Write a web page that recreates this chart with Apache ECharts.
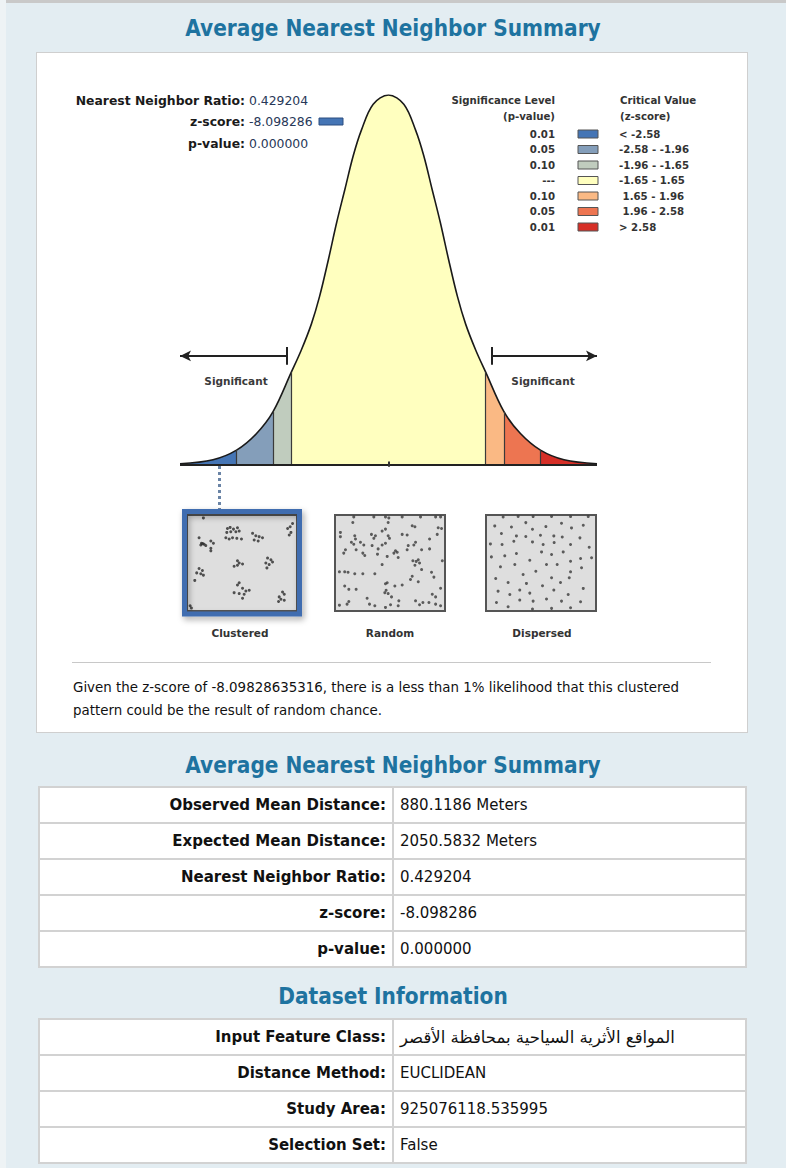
<!DOCTYPE html>
<html>
<head>
<meta charset="utf-8">
<script src="https://cdn.jsdelivr.net/npm/echarts@6/dist/echarts.min.js"></script>
<style>
  body{margin:0;width:786px;height:1168px;background:#e3edf2;position:relative;overflow:hidden;font-family:"DejaVu Sans",sans-serif;color:#111;}
  .topbar{position:absolute;left:0;top:0;width:786px;height:3px;background:#c9c9c9;}
  .leftbar{position:absolute;left:0;top:0;width:6px;height:1168px;background:#eef3f5;}
  .title{position:absolute;left:0;width:786px;text-align:center;color:#1e73a0;font-weight:bold;font-size:22.4px;line-height:28px;font-family:"DejaVu Sans Condensed","DejaVu Sans",sans-serif;}
  .panel{position:absolute;left:36px;top:52px;width:710px;height:679px;background:#fff;border:1px solid #cfcfcf;}
  #chart{position:absolute;left:0;top:0;width:786px;height:740px;}
  .note{position:absolute;left:73px;font-size:13.4px;line-height:16px;color:#111;white-space:nowrap;}
  .sep{position:absolute;left:72px;top:662px;width:639px;height:1px;background:#c8c8c8;}
  table{position:absolute;left:38px;width:709px;border-collapse:collapse;background:#fff;}
  td{border:2px solid #d2d2d2;height:34px;font-size:15px;padding:0 6px;white-space:nowrap;}
  td.k{width:340px;text-align:right;font-weight:bold;}
  td.v{text-align:left;}
  .ar{font-family:"DejaVu Sans",sans-serif;font-size:16.5px;}
</style>
</head>
<body>
<div class="topbar"></div>
<div class="leftbar"></div>
<div class="title" style="top:14px;">Average Nearest Neighbor Summary</div>
<div class="panel"></div>
<div class="sep"></div>
<div class="note" id="note1" style="top:680px;"></div>
<div class="note" id="note2" style="top:703px;"></div>
<div id="chart"></div>
<div class="title" style="top:751px;">Average Nearest Neighbor Summary</div>
<table id="t1" style="top:786px;"></table>
<div class="title" style="top:982px;">Dataset Information</div>
<table id="t2" style="top:1018px;"></table>
<script>
// ---------- data ----------
const zValues = [-3.54,-2.98,-2.58,-2.24,-1.96,-1.65,-1.48,-1.31,-1.17,-1.02,-0.88,-0.74,-0.6,-0.46,-0.26,0,
                 0.26,0.46,0.6,0.74,0.88,1.02,1.17,1.31,1.48,1.65,1.96,2.24,2.58,2.98,3.54];
const curveHeights = [0.002,0.013,0.039,0.084,0.143,0.25,0.31,0.38,0.455,0.555,0.655,0.745,0.835,0.905,0.975,1,
                      0.975,0.905,0.835,0.745,0.655,0.555,0.455,0.38,0.31,0.25,0.143,0.084,0.039,0.013,0.002];
const bandBreaks = [-2.58,-1.96,-1.65,1.65,1.96,2.58];
const bandColors = ['#4575b5','#849eba','#c0ccbe','#ffffbf','#fab984','#ed7551','#d62f27'];
const pLevels = ['0.01','0.05','0.10','---','0.10','0.05','0.01'];
const zRanges = ['< -2.58','-2.58 - -1.96','-1.96 - -1.65','-1.65 - 1.65',' 1.65 - 1.96',' 1.96 - 2.58','> 2.58'];
const infoLabels = ['Nearest Neighbor Ratio:','z-score:','p-value:'];
const infoValues = ['0.429204','-8.098286','0.000000'];
const markerZ = -2.866;        // position of the result marker on the curve axis
const patternNames = ['Clustered','Random','Dispersed'];

const clusteredPts = [[14.2,97.9],[36.5,86.7],[39.0,87.8],[42.1,86.0],[45.8,87.4],[35.9,82.5],[39.6,83.2],[44.3,83.2],[47.4,83.9],
 [35.0,76.9],[38.1,75.5],[41.2,76.9],[45.2,76.2],[49.5,75.5],
 [10.2,76.9],[12.4,71.0],[14.9,69.9],[16.4,68.5],[21.1,73.4],[23.5,71.0],[21.1,65.7],[21.1,62.9],[11.8,69.2],[13.6,70.6],
 [59.8,81.5],[62.8,79.0],[65.9,78.0],[69.0,76.9],[61.3,74.5],[65.0,73.4],
 [96.9,92.0],[94.7,88.5],[92.3,86.7],[95.4,82.5],[93.8,79.7],
 [45.8,52.4],[47.4,50.0],[50.5,48.9],[42.7,46.5],[45.8,47.6],
 [73.7,55.2],[76.8,53.5],[78.3,51.0],[72.1,50.0],[75.2,48.3],[73.1,44.8],
 [10.2,44.1],[13.3,42.0],[8.0,39.5],[11.8,38.5],[6.2,31.5],[14.2,37.1],
 [47.4,29.0],[45.8,26.6],[50.5,23.1],[53.6,20.3],[42.7,18.5],[47.4,17.5],[52.0,16.8],[50.5,12.6],[56.7,21.0],
 [87.6,19.2],[89.2,16.8],[84.5,14.0],[86.1,11.5],[89.2,10.5],[83.9,9.1],
 [1.9,4.5],[3.1,2.1]];
const randomPts = [[16.4,99],[35.0,99],[45.8,99],[48.9,97.9],[61.3,99],[78.3,99],[92.3,99],[96.9,99],
 [15.5,93.0],[48.3,93.0],[70.6,89.5],[73.1,88.5],[94.7,87.4],[97.8,86.7],[45.8,86.0],[42.7,83.9],
 [4.0,82.5],[4.0,78.0],[17.3,79.0],[18.0,75.5],[32.8,80.4],[36.5,79.0],[35.0,76.2],[48.3,79.0],[49.5,76.2],
 [61.3,80.4],[65.9,79.7],[93.8,80.4],[86.7,75.5],[14.2,72.0],[16.4,69.9],[22.6,72.0],[25.7,69.2],[33.4,68.5],
 [42.7,69.2],[45.8,71.0],[73.7,72.0],[72.1,69.2],[66.9,68.5],[8.7,64.0],[7.1,60.5],[18.6,64.0],[24.8,60.5],
 [26.6,58.0],[39.0,65.0],[38.4,59.4],[55.1,62.9],[56.7,61.5],[53.6,60.5],[65.9,64.0],[79.3,64.0],[86.7,65.0],
 [47.4,57.0],[57.6,55.9],[71.2,52.4],[74.3,51.7],[76.2,53.5],[77.4,50.0],[73.1,47.6],[98.5,52.4],[42.7,48.3],
 [79.3,43.0],[88.5,40.2],[3.1,40.6],[8.0,40.6],[11.1,40.2],[17.3,38.5],[24.8,38.5],[35.9,38.5],
 [70.6,36.0],[69.0,32.5],[90.7,35.0],[76.2,30.1],[47.4,29.0],[45.8,28.0],[54.5,25.5],[61.3,26.6],
 [8.0,25.5],[11.8,22.0],[18.6,22.0],[46.4,21.0],[45.2,18.5],[48.3,17.5],[96.9,23.1],[89.2,16.8],[92.3,14.0],
 [28.8,12.6],[51.4,14.0],[58.2,9.8],[73.7,9.8],[80.5,8.0],[3.1,5.2],[11.8,9.1],[10.2,6.3],[31.0,6.3],
 [35.9,4.5],[45.8,2.8],[50.5,5.6],[57.6,4.5],[77.4,5.6],[86.1,8.0],[92.3,6.3],[96.9,4.5]];
const dispersedPts = [[14.9,98.9],[28.8,99.5],[42.7,99.3],[59.8,99.5],[77.4,99.3],[93.8,99.3],
 [7.1,89.4],[22.6,88.3],[35.9,92.9],[42.1,85.9],[54.5,88.7],[69.0,92.2],[78.3,87.3],[89.2,90.1],
 [13.3,81.3],[27.2,78.8],[35.9,78.1],[49.5,79.5],[61.9,78.8],[69.7,77.7],[86.1,76.7],
 [3.1,70.3],[13.9,69.6],[24.8,73.1],[42.1,72.4],[52.0,69.6],[62.2,71.7],[77.4,69.6],[94.7,66.8],
 [4.0,56.5],[16.4,57.6],[27.2,60.1],[39.6,53.0],[50.5,61.8],[59.8,59.0],[70.6,61.8],[77.4,51.9],[86.7,54.8],[96.9,55.5],
 [12.4,45.9],[25.7,48.4],[45.2,41.3],[55.1,48.4],[65.0,48.4],[77.4,40.6],[87.6,44.9],
 [8.0,33.6],[19.5,29.3],[33.4,37.8],[36.5,28.3],[51.4,25.8],[59.8,34.3],[68.1,29.3],[76.2,34.3],[89.2,23.0],
 [10.2,20.1],[21.1,16.6],[30.3,21.2],[39.6,18.0],[61.9,21.2],[75.2,16.6],
 [8.7,8.1],[19.5,3.5],[30.3,10.6],[42.7,9.5],[55.1,11.7],[69.0,9.5],[86.7,8.8],[42.1,1.1],[59.8,1.8],[77.4,2.5]];

const noteLines = ['Given the z-score of -8.09828635316, there is a less than 1% likelihood that this clustered',
                   'pattern could be the result of random chance.'];
const summaryLabels = ['Observed Mean Distance:','Expected Mean Distance:','Nearest Neighbor Ratio:','z-score:','p-value:'];
const summaryValues = ['880.1186 Meters','2050.5832 Meters','0.429204','-8.098286','0.000000'];
const datasetLabels = ['Input Feature Class:','Distance Method:','Study Area:','Selection Set:'];
const datasetValues = ['المواقع الأثرية السياحية بمحافظة الأقصر','EUCLIDEAN','925076118.535995','False'];

// ---------- html parts ----------
document.getElementById('note1').textContent = noteLines[0];
document.getElementById('note2').textContent = noteLines[1];
function fillTable(id, labels, values){
  const t = document.getElementById(id);
  labels.forEach((l,i)=>{
    const tr = document.createElement('tr');
    const a = document.createElement('td'); a.className='k'; a.textContent=l;
    const b = document.createElement('td'); b.className='v';
    const sp = document.createElement('span');
    if (/[\u0600-\u06FF]/.test(values[i])) { sp.dir='rtl'; sp.className='ar'; }
    sp.textContent = values[i];
    b.appendChild(sp);
    tr.appendChild(a); tr.appendChild(b); t.appendChild(tr);
  });
}
fillTable('t1', summaryLabels, summaryValues);
fillTable('t2', datasetLabels, datasetValues);

// ---------- chart ----------
const chart = echarts.init(document.getElementById('chart'), null, {renderer:'svg'});
const FONT = "'DejaVu Sans',sans-serif";
const curveData = zValues.map((z,i)=>[z, curveHeights[i]]);
const hAt = z => curveHeights[zValues.indexOf(z)];

const pieces = bandColors.map((c,i)=>{
  const p = {color:c};
  if (i>0) p.gte = bandBreaks[i-1];
  if (i<bandBreaks.length) p.lt = bandBreaks[i];
  return p;
});

const graphics = [];
// left info block
infoLabels.forEach((l,i)=>{
  const y = 100 + i*21.5;
  graphics.push({type:'text', x:245, y:y, style:{text:l, font:'bold 12.4px '+FONT, fill:'#1a1a1a', align:'right', verticalAlign:'middle'}});
  graphics.push({type:'text', x:249, y:y, style:{text:infoValues[i], font:'12.4px '+FONT, fill:'#283858', align:'left', verticalAlign:'middle'}});
});
graphics.push({type:'rect', shape:{x:319, y:118, width:24, height:7}, style:{fill:bandColors[0], stroke:'#2c4f80', lineWidth:1}});
// legend
const legFont = 'bold 10.2px '+FONT;
graphics.push({type:'text', x:555, y:100, style:{text:'Significance Level', font:legFont, fill:'#333', align:'right', verticalAlign:'middle'}});
graphics.push({type:'text', x:555, y:116, style:{text:'(p-value)', font:legFont, fill:'#333', align:'right', verticalAlign:'middle'}});
graphics.push({type:'text', x:620, y:100, style:{text:'Critical Value', font:legFont, fill:'#333', align:'left', verticalAlign:'middle'}});
graphics.push({type:'text', x:620, y:116, style:{text:'(z-score)', font:legFont, fill:'#333', align:'left', verticalAlign:'middle'}});
pLevels.forEach((p,i)=>{
  const y = 134 + i*15.5;
  graphics.push({type:'text', x:555, y:y, style:{text:p, font:legFont, fill:'#333', align:'right', verticalAlign:'middle'}});
  graphics.push({type:'rect', shape:{x:578, y:y-4, width:20, height:8}, style:{fill:bandColors[i], stroke:'#555', lineWidth:1}});
  graphics.push({type:'text', x:619, y:y, style:{text:zRanges[i], font:legFont, fill:'#333', align:'left', verticalAlign:'middle'}});
});
// curve annotations
const annFont = 'bold 10.5px '+FONT;
graphics.push({type:'text', x:391, y:358, style:{text:'(Random)', font:annFont, fill:'#4a3a2a', align:'center', verticalAlign:'middle'}});
graphics.push({type:'text', x:236, y:381, style:{text:'Significant', font:annFont, fill:'#3a3a3a', align:'center', verticalAlign:'middle'}});
graphics.push({type:'text', x:543, y:381, style:{text:'Significant', font:annFont, fill:'#3a3a3a', align:'center', verticalAlign:'middle'}});
// pattern labels
[240,390,542].forEach((x,i)=>{
  graphics.push({type:'text', x:x, y:633, style:{text:patternNames[i], font:annFont, fill:'#333', align:'center', verticalAlign:'middle'}});
});
// highlight frame around clustered pattern
graphics.push({type:'rect', z:100, shape:{x:184.5, y:511.5, width:115, height:102.5},
  style:{fill:'none', stroke:'#3f6db0', lineWidth:5, shadowBlur:6, shadowOffsetX:2, shadowOffsetY:3, shadowColor:'rgba(0,0,0,0.35)'}});

const lineY = 0.294;
const markLines = [
  // baseline
  [{coord:[-3.54,0], lineStyle:{color:'#222', width:2, type:'solid'}}, {coord:[3.54,0]}],
  // centre tick
  [{coord:[0,-0.006], lineStyle:{color:'#333', width:2, type:'solid'}}, {coord:[0,0.008]}],
  // arrows
  [{coord:[-1.73,lineY], symbol:'none', lineStyle:{color:'#222', width:2, type:'solid'}}, {coord:[-3.54,lineY], symbol:'arrow'}],
  [{coord:[1.76,lineY], symbol:'none', lineStyle:{color:'#222', width:2, type:'solid'}}, {coord:[3.54,lineY], symbol:'arrow'}],
  [{coord:[-1.73,lineY-0.024], lineStyle:{color:'#222', width:2, type:'solid'}}, {coord:[-1.73,lineY+0.024]}],
  [{coord:[1.76,lineY-0.024], lineStyle:{color:'#222', width:2, type:'solid'}}, {coord:[1.76,lineY+0.024]}],
  // marker to pattern box
  [{coord:[markerZ,-0.004], lineStyle:{color:'#6a84a6', width:3, type:[3,3]}}, {coord:[markerZ,-0.123]}]
];

const boxGrid = (left) => ({left:left, top:515, width:110, height:96, show:true, backgroundColor:'#dedede', borderColor:'#555', borderWidth:2});
const hiddenAxis = (gi, type) => ({type:'value', gridIndex:gi, min: type==='x' ? -3.54 : -0.123, max: type==='x' ? 3.54 : 1, show:false});
const boxAxis = (gi) => ({type:'value', gridIndex:gi, min:-1, max:101, show:false});

chart.setOption({
  animation:false,
  grid:[
    {left:180, top:95, width:417, height:415},
    boxGrid(187), boxGrid(335), boxGrid(486)
  ],
  xAxis:[hiddenAxis(0,'x'), boxAxis(1), boxAxis(2), boxAxis(3)],
  yAxis:[hiddenAxis(0,'y'), boxAxis(1), boxAxis(2), boxAxis(3)],
  visualMap:{show:false, type:'piecewise', dimension:0, seriesIndex:0, pieces:pieces},
  series:[
    {type:'line', xAxisIndex:0, yAxisIndex:0, data:curveData, smooth:0.35, showSymbol:false, z:3,
     lineStyle:{color:'#1a1a1a', width:1.6}, areaStyle:{opacity:1, origin:0},
     markLine:{silent:true, symbol:'none', label:{show:false},
       lineStyle:{color:'#3a3a3a', width:1.2, type:'solid'},
       data: bandBreaks.map(b=>[{coord:[b,0]},{coord:[b,hAt(b)]}])}},
    {type:'line', xAxisIndex:0, yAxisIndex:0, data:[[0,0]], showSymbol:false, lineStyle:{opacity:0}, z:4,
     markLine:{silent:true, symbol:'none', symbolSize:[8,11], label:{show:false}, data:markLines}},
    {type:'scatter', xAxisIndex:1, yAxisIndex:1, data:clusteredPts, symbolSize:3, itemStyle:{color:'#2a2a2a'}, silent:true},
    {type:'scatter', xAxisIndex:2, yAxisIndex:2, data:randomPts, symbolSize:3, itemStyle:{color:'#3a3a3a'}, silent:true},
    {type:'scatter', xAxisIndex:3, yAxisIndex:3, data:dispersedPts, symbolSize:3, itemStyle:{color:'#3a3a3a'}, silent:true}
  ],
  graphic: graphics
});
</script>
</body>
</html>
